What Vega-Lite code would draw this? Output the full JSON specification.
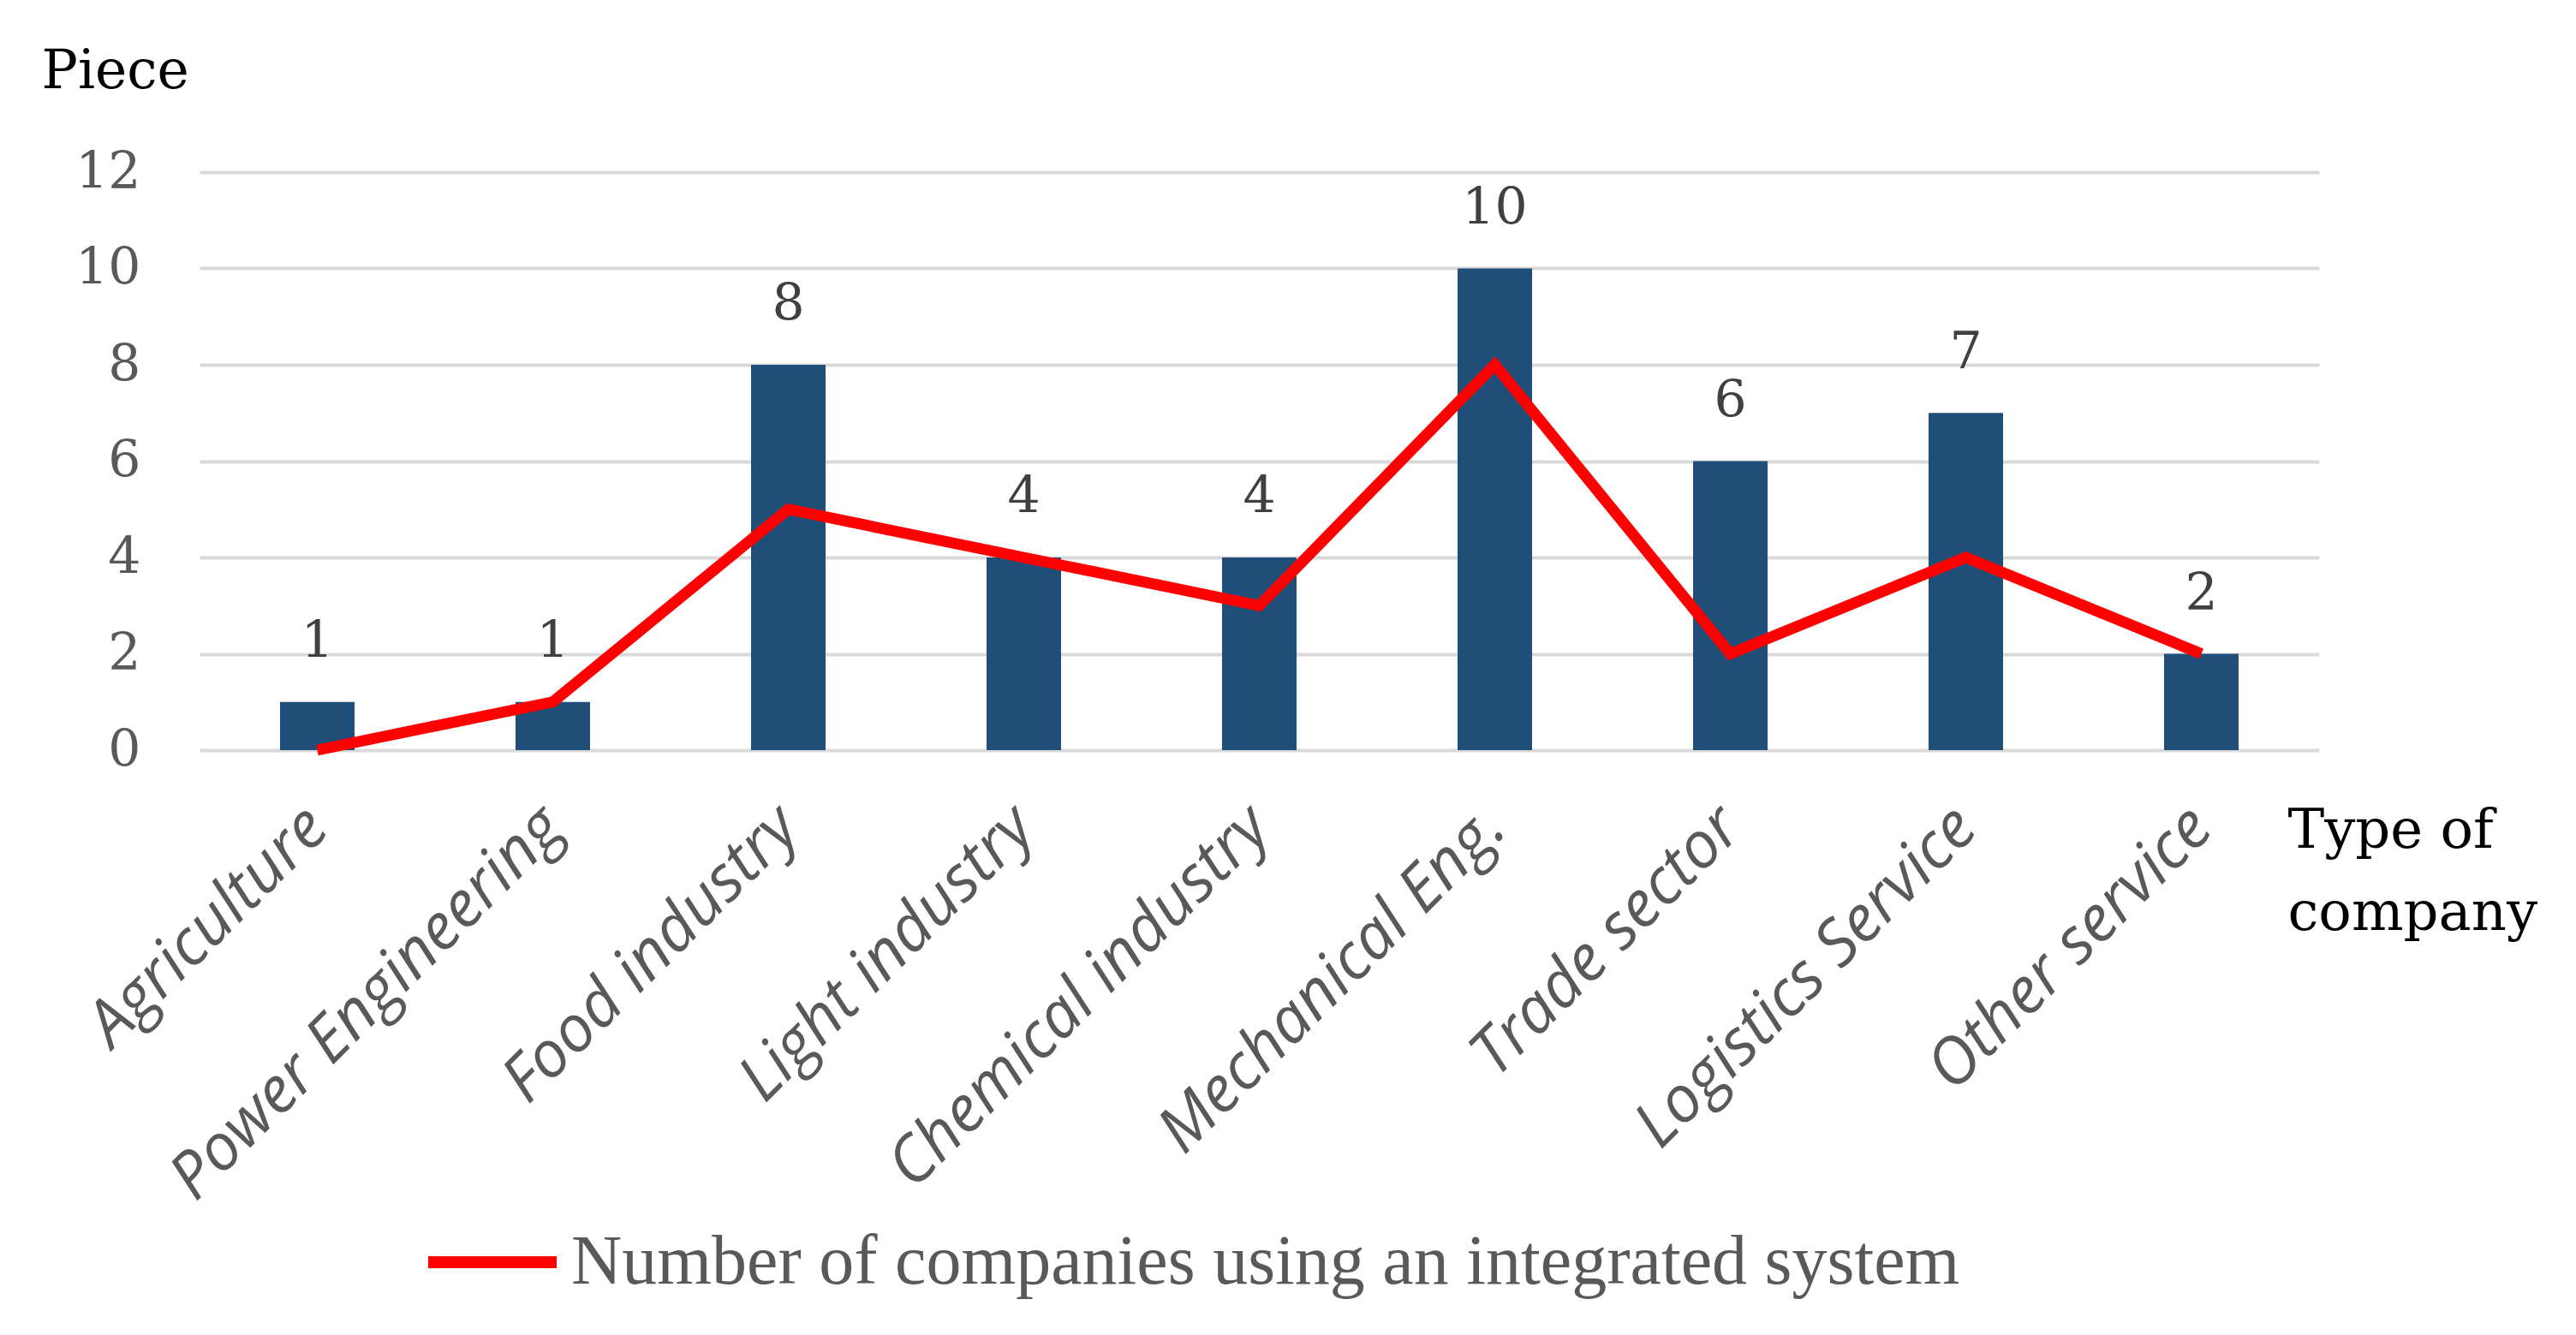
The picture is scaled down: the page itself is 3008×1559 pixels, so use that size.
{
  "$schema": "https://vega.github.io/schema/vega-lite/v6.json",
  "width": 2475,
  "height": 675,
  "autosize": {"type": "none"},
  "padding": {"left": 233, "top": 201, "right": 300, "bottom": 683},
  "background": "white",
  "config": {"view": {"stroke": null}},
  "data": {
    "values": [
      {"type": "Agriculture", "total": 1, "integrated": 0},
      {"type": "Power Engineering", "total": 1, "integrated": 1},
      {"type": "Food industry", "total": 8, "integrated": 5},
      {"type": "Light industry", "total": 4, "integrated": 4},
      {"type": "Chemical industry", "total": 4, "integrated": 3},
      {"type": "Mechanical Eng.", "total": 10, "integrated": 8},
      {"type": "Trade sector", "total": 6, "integrated": 2},
      {"type": "Logistics Service", "total": 7, "integrated": 4},
      {"type": "Other service", "total": 2, "integrated": 2}
    ]
  },
  "encoding": {
    "x": {
      "field": "type",
      "type": "nominal",
      "sort": null,
      "scale": {"paddingInner": 0, "paddingOuter": 0},
      "axis": {
        "title": ["Type of", "company"],
        "titleFont": "DejaVu Serif",
        "titleFontSize": 64,
        "titleFontWeight": "normal",
        "titleColor": "#000000",
        "titleAngle": 0,
        "titleAlign": "left",
        "titleBaseline": "top",
        "titleAnchor": "start",
        "titleX": 2438,
        "titleY": 62,
        "titleLineHeight": 96,
        "domain": false,
        "ticks": false,
        "grid": false,
        "labelAngle": -45,
        "labelAlign": "right",
        "labelBaseline": "middle",
        "labelPadding": 78,
        "labelFont": "Open Sans",
        "labelFontStyle": "italic",
        "labelFontSize": 75,
        "labelColor": "#595959",
        "labelOverlap": false,
        "labelLimit": 0
      }
    }
  },
  "layer": [
    {
      "mark": {"type": "bar", "width": 87, "color": "#1f4e79"},
      "encoding": {
        "y": {
          "field": "total",
          "type": "quantitative",
          "scale": {"domain": [0, 12], "nice": false},
          "axis": {
            "title": "Piece",
            "titleFont": "DejaVu Serif",
            "titleFontSize": 63,
            "titleFontWeight": "normal",
            "titleColor": "#000000",
            "titleAngle": 0,
            "titleAlign": "left",
            "titleBaseline": "alphabetic",
            "titleX": -185,
            "titleY": -99,
            "values": [0, 2, 4, 6, 8, 10, 12],
            "format": "d",
            "domain": false,
            "ticks": false,
            "grid": true,
            "gridColor": "#d9d9d9",
            "gridWidth": 4,
            "labelFont": "DejaVu Serif",
            "labelFontSize": 60,
            "labelColor": "#595959",
            "labelPadding": 69
          }
        }
      }
    },
    {
      "mark": {"type": "text", "font": "DejaVu Serif", "fontSize": 60, "color": "#404040", "baseline": "alphabetic", "dy": -52},
      "encoding": {
        "y": {"field": "total", "type": "quantitative"},
        "text": {"field": "total", "type": "quantitative"}
      }
    },
    {
      "mark": {"type": "line", "strokeWidth": 13, "strokeJoin": "miter"},
      "encoding": {
        "y": {"field": "integrated", "type": "quantitative"},
        "color": {
          "datum": "Number of companies using an integrated system",
          "type": "nominal",
          "scale": {"range": ["#ff0000"]},
          "legend": {
            "title": null,
            "orient": "none",
            "legendX": 260,
            "legendY": 1191,
            "symbolType": "stroke",
            "symbolSize": 22500,
            "symbolStrokeWidth": 14,
            "labelFont": "Liberation Serif",
            "labelFontSize": 82,
            "labelColor": "#595959",
            "labelOffset": 10,
            "labelLimit": 0
          }
        }
      }
    }
  ]
}
